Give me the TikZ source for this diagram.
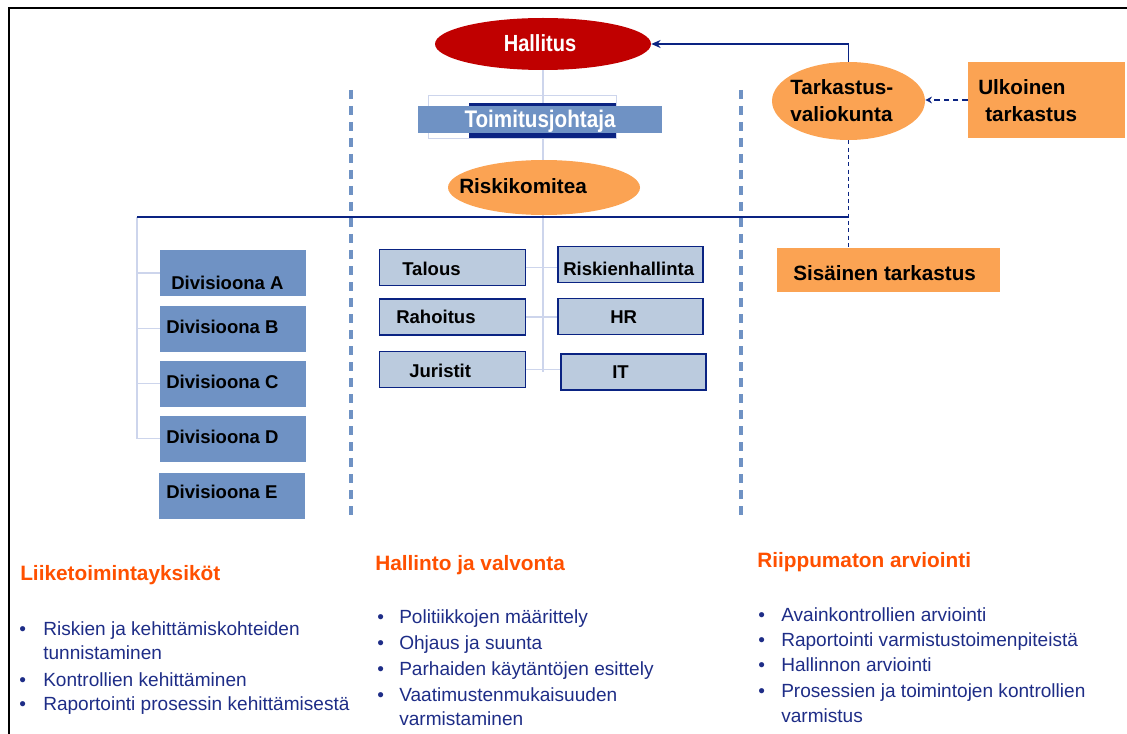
\documentclass[tikz,border=0pt]{standalone}
\usepackage{fontspec}
\setmainfont{Liberation Sans}
\newfontfamily\condfont{Liberation Sans}[FakeStretch=0.86]
\usetikzlibrary{shapes.geometric,arrows.meta,backgrounds}
\definecolor{hallred}{RGB}{192,0,0}
\definecolor{orng}{RGB}{251,163,83}
\definecolor{divblue}{RGB}{111,146,196}
\definecolor{lightbox}{RGB}{187,203,222}
\definecolor{navy}{RGB}{10,35,130}
\definecolor{thinblue}{RGB}{205,213,236}
\definecolor{headorange}{RGB}{255,80,0}
\definecolor{txtblue}{RGB}{30,45,135}
\begin{document}
\begin{tikzpicture}[x=0.75pt,y=-0.75pt,
  bigbold/.style={font=\fontsize{15.5}{18}\selectfont\bfseries, anchor=base west, inner sep=0pt},
  smallbold/.style={font=\fontsize{13.9}{16}\selectfont\bfseries, anchor=base west, inner sep=0pt},
  body/.style={font=\fontsize{14.3}{17}\selectfont, text=txtblue, anchor=base west, inner sep=0pt},
  head/.style={font=\fontsize{15.6}{18}\selectfont\bfseries, text=headorange, anchor=base west, inner sep=0pt},
  divbox/.style={rectangle, fill=divblue, minimum width=109.5pt, minimum height=34.5pt, inner sep=0pt},
  midbox/.style={rectangle, fill=lightbox, draw=navy, line width=1.4pt, minimum width=109.5pt, minimum height=27pt, inner sep=0pt},
  orbox/.style={rectangle, fill=orng, inner sep=0pt},
  orell/.style={ellipse, fill=orng, inner sep=0pt},
  thinline/.style={draw=thinblue, line width=0.8pt},
  navyline/.style={draw=navy, line width=1.3pt},
  sepline/.style={draw=divblue, line width=3.6pt, dash pattern=on 6.5pt off 5.5pt}
]
\useasboundingbox (0,0) rectangle (1127,734);

% frame
\coordinate (fbl) at (9,736);
\coordinate (ftl) at (9,8);
\coordinate (ftr) at (1128,8);
\draw[line width=2.2pt] (fbl) -- (ftl) -- (ftr);

% top nodes
\node[ellipse, fill=hallred, minimum width=162pt, minimum height=39pt, inner sep=0pt] (hall) at (543,44) {};
\node[font=\condfont\fontsize{17.5}{20}\selectfont\bfseries, text=white, anchor=base, inner sep=0pt] (hallt) at (540,52) {Hallitus};

\node[rectangle, draw=thinblue, line width=0.6pt, minimum width=141pt, minimum height=32.25pt, inner sep=0pt] (ceoframe) at (522,116.5) {};
\node[rectangle, fill=navy, minimum width=110.25pt, minimum height=26.25pt, inner sep=0pt] (ceodark) at (542.5,120.5) {};
\node[rectangle, fill=divblue, minimum width=183pt, minimum height=20.25pt, inner sep=0pt] (ceo) at (540,119.5) {};
\node[font=\condfont\fontsize{18}{20}\selectfont\bfseries, text=white, anchor=base, inner sep=0pt] (ceot) at (540,128) {Toimitusjohtaja};

\node[orell, minimum width=144pt, minimum height=41.25pt] (riskc) at (544,187.5) {};
\node[bigbold] (riskct) at (459,194) {Riskikomitea};

\node[orell, minimum width=114.75pt, minimum height=58.5pt] (tv) at (848.5,101) {};
\node[bigbold] (tvt1) at (790,95) {Tarkastus-};
\node[bigbold] (tvt2) at (790,122) {valiokunta};

\node[orbox, minimum width=117.75pt, minimum height=57pt] (ulk) at (1046.5,100) {};
\node[bigbold] (ulkt1) at (978,95) {Ulkoinen};
\node[bigbold] (ulkt2) at (985,122) {tarkastus};

\node[orbox, minimum width=167.25pt, minimum height=33pt] (sis) at (888.5,270) {};
\node[bigbold] (sist) at (793,281) {Sisäinen tarkastus};

% divisions
\node[divbox] (divA) at (233,273) {};
\node[divbox] (divB) at (233,328.5) {};
\node[divbox] (divC) at (233,383.5) {};
\node[divbox] (divD) at (233,438.5) {};
\node[divbox] (divE) at (232,496) {};
\node[smallbold] (tA) at (171,289) {Divisioona A};
\node[smallbold] (tB) at (166,333) {Divisioona B};
\node[smallbold] (tC) at (166,388) {Divisioona C};
\node[smallbold] (tD) at (166,443) {Divisioona D};
\node[smallbold] (tE) at (166,498) {Divisioona E};

% middle boxes
\node[midbox] (tal) at (452.5,267.5) {};
\node[midbox] (rah) at (452.5,317) {};
\node[midbox] (jur) at (452.5,369.5) {};
\node[midbox, minimum width=108.75pt] (rsk) at (630.5,264.5) {};
\node[midbox, minimum width=108.75pt] (hr) at (630.5,316.5) {};
\node[midbox, minimum width=108.75pt] (it) at (633.5,372) {};
\node[smallbold] (talt) at (402,275) {Talous};
\node[smallbold] (raht) at (396,323) {Rahoitus};
\node[smallbold] (jurt) at (409,377) {Juristit};
\node[smallbold] (rskt) at (563,275) {Riskienhallinta};
\node[smallbold] (hrt) at (610,323) {HR};
\node[smallbold] (itt) at (612,378) {IT};

% connectors
\coordinate (midend) at (543,372);
\coordinate (lt) at (137,217);
\coordinate (hr2) at (849,217);
\begin{scope}[on background layer]
  \draw[thinline] (hall.center) -- (midend);
\end{scope}
\draw[thinline] (tal.east) -- (tal.east -| rsk.west);
\draw[thinline] (rah.east) -- (rah.east -| hr.west);
\draw[thinline] (jur.east) -- (jur.east -| it.west);
\draw[thinline] (lt) |- (divD.west);
\draw[thinline] (lt |- divA.west) -- (divA.west);
\draw[thinline] (lt |- divB.west) -- (divB.west);
\draw[thinline] (lt |- divC.west) -- (divC.west);
\draw[navyline] (lt) -- (hr2);

\draw[navyline, -{Stealth[length=7pt,width=6pt]}] (tv.north) |- (hall.east);
\draw[navy, line width=1.1pt, dash pattern=on 4pt off 3pt, -{Stealth[length=5pt,width=5pt]}] (ulk.west) -- (ulk.west -| tv.east);
\draw[navy, line width=0.9pt, dash pattern=on 3pt off 2.5pt] (tv.south) -- (tv.south |- sis.north);

% separators
\coordinate (s1t) at (351,90);
\coordinate (s1b) at (351,521);
\coordinate (s2t) at (741,90);
\coordinate (s2b) at (741,521);
\draw[sepline] (s1t) -- (s1b);
\draw[sepline] (s2t) -- (s2b);

% headings
\node[head] (h1) at (20,580) {Liiketoimintayksiköt};
\node[head] (h2) at (375,570) {Hallinto ja valvonta};
\node[head] (h3) at (757,567) {Riippumaton arviointi};

% left column
\node[body] (lb1) at (19,635) {•};
\node[body] (l1) at (43,635) {Riskien ja kehittämiskohteiden};
\node[body] (l1b) at (43,659) {tunnistaminen};
\node[body] (lb2) at (19,686) {•};
\node[body] (l2) at (43,686) {Kontrollien kehittäminen};
\node[body] (lb3) at (19,710) {•};
\node[body] (l3) at (43,710) {Raportointi prosessin kehittämisestä};

% middle column
\node[body] (mb1) at (377,623) {•};
\node[body] (m1) at (399,623) {Politiikkojen määrittely};
\node[body] (mb2) at (377,649) {•};
\node[body] (m2) at (399,649) {Ohjaus ja suunta};
\node[body] (mb3) at (377,675) {•};
\node[body] (m3) at (399,675) {Parhaiden käytäntöjen esittely};
\node[body] (mb4) at (377,701) {•};
\node[body] (m4) at (399,701) {Vaatimustenmukaisuuden};
\node[body] (m4b) at (399,725) {varmistaminen};

% right column
\node[body] (rb1) at (758,621) {•};
\node[body] (r1) at (781,621) {Avainkontrollien arviointi};
\node[body] (rb2) at (758,646) {•};
\node[body] (r2) at (781,646) {Raportointi varmistustoimenpiteistä};
\node[body] (rb3) at (758,671) {•};
\node[body] (r3) at (781,671) {Hallinnon arviointi};
\node[body] (rb4) at (758,697) {•};
\node[body] (r4) at (781,697) {Prosessien ja toimintojen kontrollien};
\node[body] (r4b) at (781,722) {varmistus};
\end{tikzpicture}
\end{document}
